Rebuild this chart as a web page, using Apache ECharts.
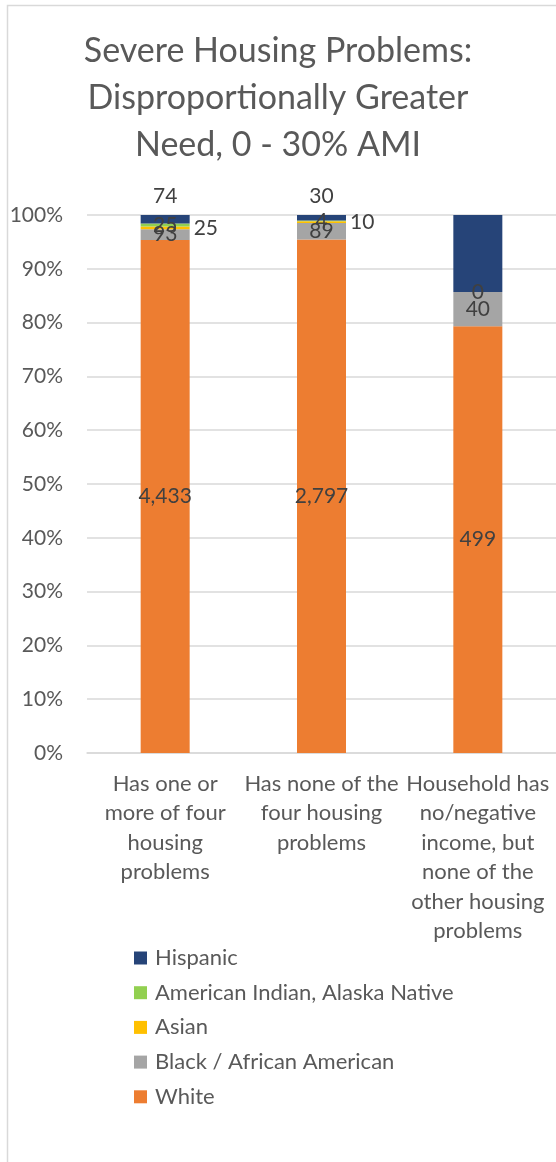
<!DOCTYPE html>
<html>
<head>
<meta charset="utf-8">
<title>Severe Housing Problems: Disproportionally Greater Need, 0 - 30% AMI</title>
<script src="https://cdn.jsdelivr.net/npm/echarts@6/dist/echarts.min.js"></script>
<style>
  html, body { margin: 0; padding: 0; background: #ffffff; }
  #chart { width: 556px; height: 1162px; }
</style>
</head>
<body>
<div id="chart"></div>
<script>
// Household categories (tick labels, wrapped as shown under each bar)
const categories = [
  'Has one or\nmore of four\nhousing\nproblems',
  'Has none of the\nfour housing\nproblems',
  'Household has\nno/negative\nincome, but\nnone of the\nother housing\nproblems'
];

// Household counts per race / ethnicity
const white    = [4433, 2797, 499];
const black    = [93, 89, 40];
const asian    = [25, 10, 0];
const aian     = [25, 4, 0];
const hispanic = [74, 30, 90];

// Which value labels are drawn for each group (per category)
const asianLabelShown    = [true, true, false];
const hispanicLabelShown = [true, true, false];

const yTicks = [0, 10, 20, 30, 40, 50, 60, 70, 80, 90, 100];

const FONT = 'Lato, "Noto Sans", sans-serif';
const TEXT = '#595959';
const LABEL = '#404040';

// Totals for the 100% stack
const totals = categories.map((_, i) =>
  white[i] + black[i] + asian[i] + aian[i] + hispanic[i]);
const pct = arr => arr.map((v, i) => v / totals[i] * 100);

function makeSeries(name, values, color, labelCfg, shownFlags) {
  const share = pct(values);
  return {
    name: name,
    type: 'bar',
    stack: 'total',
    barWidth: 49,
    itemStyle: { color: color },
    data: share.map((p, i) => {
      const item = { value: p, raw: values[i] };
      if (shownFlags && !shownFlags[i]) item.label = { show: false };
      return item;
    }),
    label: Object.assign({
      show: true,
      color: LABEL,
      fontFamily: FONT,
      fontSize: 21,
      formatter: p => p.data.raw.toLocaleString('en-US')
    }, labelCfg)
  };
}

const chart = echarts.init(document.getElementById('chart'), null, { renderer: 'canvas' });

chart.setOption({
  animation: false,
  backgroundColor: '#ffffff',
  title: {
    text: 'Severe Housing Problems:\nDisproportionally Greater\nNeed, 0 - 30% AMI',
    left: 'center',
    top: 28,
    padding: [0, 0, 0, 16],
    textStyle: {
      color: TEXT,
      fontFamily: FONT,
      fontWeight: 'normal',
      fontSize: 34,
      lineHeight: 47
    }
  },
  graphic: [{
    type: 'rect',
    silent: true,
    shape: { x: 7.5, y: 5.5, width: 700, height: 1300 },
    style: { fill: 'none', stroke: '#d9d9d9', lineWidth: 1.5 },
    z: -10
  }],
  grid: { left: 87, right: -4, top: 215, bottom: 409, containLabel: false },
  legend: {
    orient: 'vertical',
    left: 129,
    top: 942,
    icon: 'rect',
    itemWidth: 13,
    itemHeight: 13,
    itemGap: 12.7,
    data: ['Hispanic', 'American Indian, Alaska Native', 'Asian', 'Black / African American', 'White'],
    textStyle: { color: TEXT, fontFamily: FONT, fontSize: 22, lineHeight: 22, padding: [0, 0, 0, 3] }
  },
  xAxis: {
    type: 'category',
    data: categories,
    axisTick: { show: false },
    axisLine: { lineStyle: { color: '#d9d9d9', width: 1.5 } },
    axisLabel: {
      color: TEXT,
      fontFamily: FONT,
      fontSize: 22,
      lineHeight: 29.5,
      margin: 16,
      interval: 0
    }
  },
  yAxis: {
    type: 'value',
    min: 0,
    max: 100,
    interval: 10,
    axisLine: { show: false },
    axisTick: { show: false },
    splitLine: { lineStyle: { color: '#d9d9d9', width: 1.5 } },
    axisLabel: {
      color: TEXT,
      fontFamily: FONT,
      fontSize: 21,
      margin: 24,
      formatter: v => (yTicks.indexOf(v) >= 0 ? v + '%' : '')
    }
  },
  series: [
    makeSeries('White', white, '#ED7D31', { position: 'inside' }),
    makeSeries('Black / African American', black, '#A5A5A5', { position: 'inside' }),
    makeSeries('Asian', asian, '#FFC000', { position: 'right', distance: 4 }, asianLabelShown),
    makeSeries('American Indian, Alaska Native', aian, '#92D050', { position: 'inside' }),
    makeSeries('Hispanic', hispanic, '#264478', { position: 'top', distance: 8 }, hispanicLabelShown)
  ]
});
</script>
</body>
</html>
